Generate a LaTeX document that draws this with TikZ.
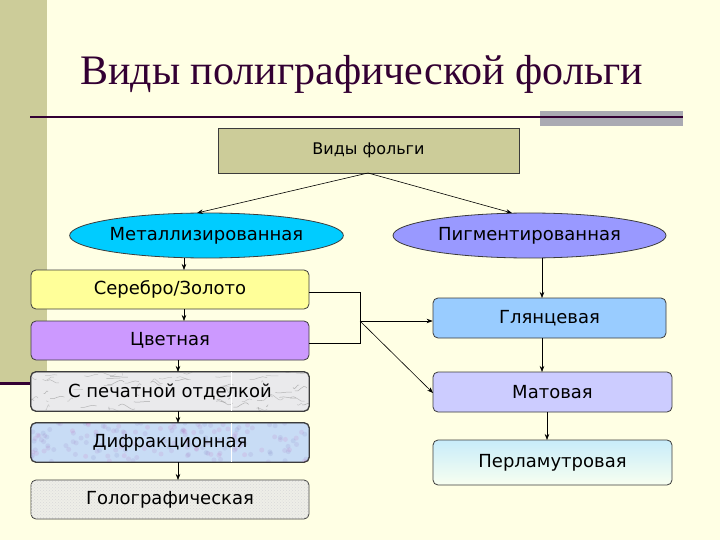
\documentclass[tikz,border=0pt]{standalone}
\usepackage{fontspec}
\setmainfont{DejaVu Sans}
\newfontfamily\titlefont{Liberation Serif}
\usetikzlibrary{shapes.geometric,arrows.meta,patterns}
\definecolor{bgc}{RGB}{255,255,228}
\definecolor{barc}{RGB}{204,204,153}
\definecolor{titc}{RGB}{51,0,51}
\definecolor{grayr}{RGB}{170,170,178}
\definecolor{edgec}{RGB}{60,60,60}
\definecolor{yel}{RGB}{255,255,153}
\definecolor{vio}{RGB}{204,153,255}
\definecolor{cyanc}{RGB}{0,204,255}
\definecolor{pig}{RGB}{153,153,255}
\definecolor{gly}{RGB}{153,204,255}
\definecolor{mat}{RGB}{204,204,255}
\definecolor{perT}{RGB}{200,236,250}
\definecolor{perB}{RGB}{248,255,240}
\definecolor{marb}{RGB}{234,234,236}
\definecolor{difr}{RGB}{200,220,245}
\definecolor{holo}{RGB}{238,238,232}
\tikzset{
  lbox/.style={draw=edgec, line width=0.8pt, rounded corners=5pt, minimum width=278pt, minimum height=39pt, font=\fontsize{18}{20}\selectfont, text=black, inner sep=0pt},
  rbox/.style={draw=edgec, line width=0.8pt, rounded corners=5pt, minimum height=40pt, font=\fontsize{18}{20}\selectfont, text=black, inner sep=0pt},
  ell/.style={ellipse, draw=edgec, line width=0.8pt, minimum width=273pt, minimum height=45pt, font=\fontsize{18}{20}\selectfont, inner sep=0pt},
  conn/.style={draw=black, line width=0.6pt},
  arr/.style={conn, -{Stealth[length=6pt,width=4.5pt]}},
}
\begin{document}
\begin{tikzpicture}[x=1pt,y=-1pt]
\fill[bgc] (0,0) rectangle (720,540);
\useasboundingbox (0,0) rectangle (720,540);
\fill[barc] (0,0) rectangle (47,383);
\fill[titc] (0,382) rectangle (40,385);
\node[anchor=base west, inner sep=0pt, text=titc, font=\titlefont\fontsize{42}{46}\selectfont] (title) at (80,85) {Виды полиграфической фольги};
\fill[grayr] (540,111) rectangle (683,126);
\fill[titc] (30,116) rectangle (683,118.5);

\node[draw=edgec, fill=barc, line width=0.8pt, minimum width=301pt, minimum height=45pt, font=\fontsize{16}{18}\selectfont, inner sep=0pt] (top) at (368.5,150.5) {Виды фольги};

\node[ell, fill=cyanc] (met) at (206.5,235.5) {Металлизированная};
\node[ell, fill=pig] (pigm) at (529.5,235.5) {Пигментированная};

\node[lbox, fill=yel] (sz) at (170,289.5) {Серебро/Золото};
\node[lbox, fill=vio] (cv) at (170,340.5) {Цветная};
% marble box
\node[lbox, fill=marb] (pe) at (170,391.5) {};
\begin{scope}
  \clip[rounded corners=5pt] (pe.south west) rectangle (pe.north east);
  \pgfmathsetseed{7}
  \foreach \i in {1,...,70} {
    \pgfmathsetmacro\xa{25+290*rnd}
    \pgfmathsetmacro\ya{370+43*rnd}
    \pgfmathsetmacro\dx{36*rnd-18}
    \pgfmathsetmacro\dy{14*rnd-7}
    \pgfmathsetmacro\gg{35+30*rnd}
    \draw[black!\gg, line width=0.5pt, opacity=0.45] (\xa,\ya) .. controls (\xa+\dx/3,\ya-\dy) and (\xa+2*\dx/3,\ya+\dy) .. (\xa+\dx,\ya+\dy/2);
  }
  \draw[white, line width=0.8pt] (231,372) -- (231,411);
\end{scope}
\draw[edgec, line width=0.8pt, rounded corners=5pt] (pe.south west) rectangle (pe.north east);
\node[font=\fontsize{18}{20}\selectfont, inner sep=0pt] (pet) at (pe.center) {С печатной отделкой};
% diffraction box
\node[lbox, fill=difr] (di) at (170,442.5) {};
\begin{scope}
  \clip[rounded corners=5pt] (di.south west) rectangle (di.north east);
  \pgfmathsetseed{11}
  \foreach \i in {1,...,160} {
    \pgfmathsetmacro\xa{31+278*rnd}
    \pgfmathsetmacro\ya{423+39*rnd}
    \pgfmathsetmacro\cc{100*rnd}
    \fill[magenta!\cc!blue, opacity=0.08] (\xa,\ya) circle (2.5pt);
  }
  \draw[white, line width=0.8pt] (231,423) -- (231,462);
\end{scope}
\draw[edgec, line width=0.8pt, rounded corners=5pt] (di.south west) rectangle (di.north east);
\node[font=\fontsize{18}{20}\selectfont, inner sep=0pt] (dit) at (di.center) {Дифракционная};

\node[lbox, fill=holo, postaction={pattern=crosshatch dots, pattern color=gray!30}] (ho) at (170,499.5) {Голографическая};

\node[rbox, fill=gly, minimum width=233pt] (gl) at (549.5,318) {Глянцевая};
\node[rbox, fill=mat, minimum width=239pt] (ma) at (552.5,392) {Матовая};
\node[rbox, top color=perT, bottom color=perB, minimum width=239pt, minimum height=45pt] (pl) at (552.5,462.5) {Перламутровая};

\coordinate (tb) at (368,173);
\draw[arr] (tb) -- (197,213);
\draw[arr] (tb) -- (512,213);

\draw[arr] (184,258) -- (184,270);
\draw[arr] (184,309) -- (184,321);
\draw[arr] (178,360) -- (178,372);
\draw[arr] (178,411) -- (178,423);
\draw[arr] (178,462) -- (178,480);

\draw[arr] (542,258) -- (542,298);
\draw[arr] (542,338) -- (542,372);
\draw[arr] (547,412) -- (547,440);

\coordinate (j) at (360,321);
\draw[conn] (sz.east |- 0,292) -- (360,292) -- (360,343) -- (cv.east |- 0,343);
\draw[arr] (j) -- (gl.west |- j);
\draw[arr] (j) -- (433,393);
\end{tikzpicture}
\end{document}
